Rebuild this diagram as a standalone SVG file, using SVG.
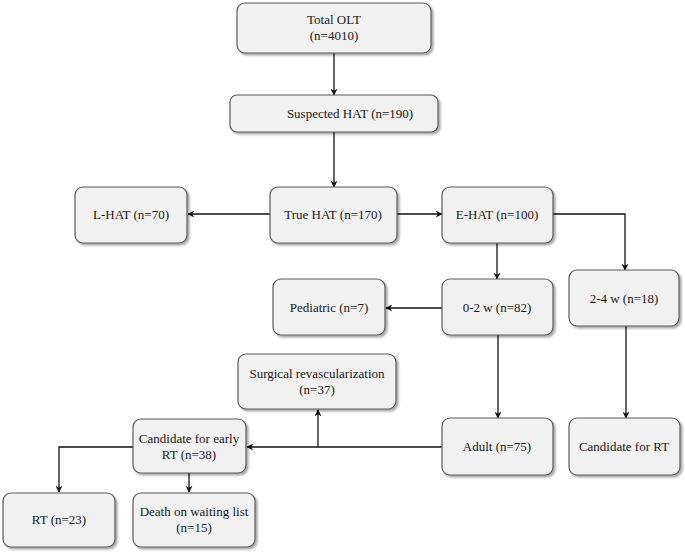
<svg xmlns="http://www.w3.org/2000/svg" width="685" height="554" viewBox="0 0 685 554" font-family="'Liberation Serif', 'Times New Roman', 'DejaVu Serif', serif">
<style>
.box{fill:#f1f1f1;stroke:#5a5a5a;stroke-width:1.2;filter:url(#sh)}
.t{font-family:'Liberation Serif','Times New Roman','DejaVu Serif',serif;font-size:13px;fill:#1a1a1a;text-anchor:middle}
.ln{fill:none;stroke:#111;stroke-width:1.3;marker-end:url(#ar)}
</style>
<defs>
<filter id="sh" x="-10%" y="-10%" width="130%" height="140%">
<feDropShadow dx="2" dy="2" stdDeviation="1.2" flood-color="#000" flood-opacity="0.35"/>
</filter>
<marker id="ar" viewBox="0 0 10 10" refX="9" refY="5" markerWidth="7" markerHeight="7" markerUnits="userSpaceOnUse" orient="auto">
<path d="M0,0 L10,5 L0,10 L3,5 z" fill="#111"/>
</marker>
</defs>
<g id="connectors">
<path class="ln" d="M334,53 V95"/>
<path class="ln" d="M334,132 V187"/>
<path class="ln" d="M270,214 H188"/>
<path class="ln" d="M397,214 H442"/>
<path class="ln" d="M553,214 H625 V270"/>
<path class="ln" d="M497,243 V279"/>
<path class="ln" d="M442,308 H386"/>
<path class="ln" d="M498,335 V418"/>
<path class="ln" d="M626,326 V418"/>
<path class="ln" d="M442,447 H247"/>
<path class="ln" d="M318,447 V410"/>
<path class="ln" d="M133,447 H59 V492"/>
<path class="ln" d="M189,473 V492"/>
</g>
<g id="n-total"><rect class="box" x="237" y="3" width="194" height="50" rx="8"/><text class="t" x="334" y="24">Total OLT</text><text class="t" x="334" y="40">(n=4010)</text></g>
<g id="n-suspected"><rect class="box" x="230" y="95" width="208" height="37" rx="7"/><text class="t" x="350" y="118">Suspected HAT (n=190)</text></g>
<g id="n-true"><rect class="box" x="270" y="187" width="127" height="56" rx="8"/><text class="t" x="333" y="219">True HAT (n=170)</text></g>
<g id="n-lhat"><rect class="box" x="75" y="187" width="112" height="56" rx="8"/><text class="t" x="131" y="219">L-HAT (n=70)</text></g>
<g id="n-ehat"><rect class="box" x="442" y="187" width="111" height="56" rx="8"/><text class="t" x="497" y="219">E-HAT (n=100)</text></g>
<g id="n-24w"><rect class="box" x="569" y="270" width="110" height="56" rx="8"/><text class="t" x="624" y="303">2-4 w (n=18)</text></g>
<g id="n-02w"><rect class="box" x="442" y="279" width="111" height="56" rx="8"/><text class="t" x="497" y="312">0-2 w (n=82)</text></g>
<g id="n-ped"><rect class="box" x="273" y="279" width="112" height="56" rx="8"/><text class="t" x="329" y="312">Pediatric (n=7)</text></g>
<g id="n-surg"><rect class="box" x="238" y="354" width="158" height="55" rx="8"/><text class="t" x="317" y="378">Surgical revascularization</text><text class="t" x="317" y="394">(n=37)</text></g>
<g id="n-adult"><rect class="box" x="442" y="418" width="111" height="57" rx="8"/><text class="t" x="497" y="451">Adult (n=75)</text></g>
<g id="n-candrt"><rect class="box" x="569" y="418" width="111" height="57" rx="8"/><text class="t" x="624" y="451">Candidate for RT</text></g>
<g id="n-early"><rect class="box" x="133" y="419" width="113" height="54" rx="8"/><text class="t" x="189" y="443">Candidate for early</text><text class="t" x="189" y="459">RT (n=38)</text></g>
<g id="n-rt"><rect class="box" x="3" y="493" width="112" height="54" rx="8"/><text class="t" x="59" y="524">RT (n=23)</text></g>
<g id="n-death"><rect class="box" x="133" y="493" width="122" height="54" rx="8"/><text class="t" x="194" y="516">Death on waiting list</text><text class="t" x="194" y="532">(n=15)</text></g>
</svg>
